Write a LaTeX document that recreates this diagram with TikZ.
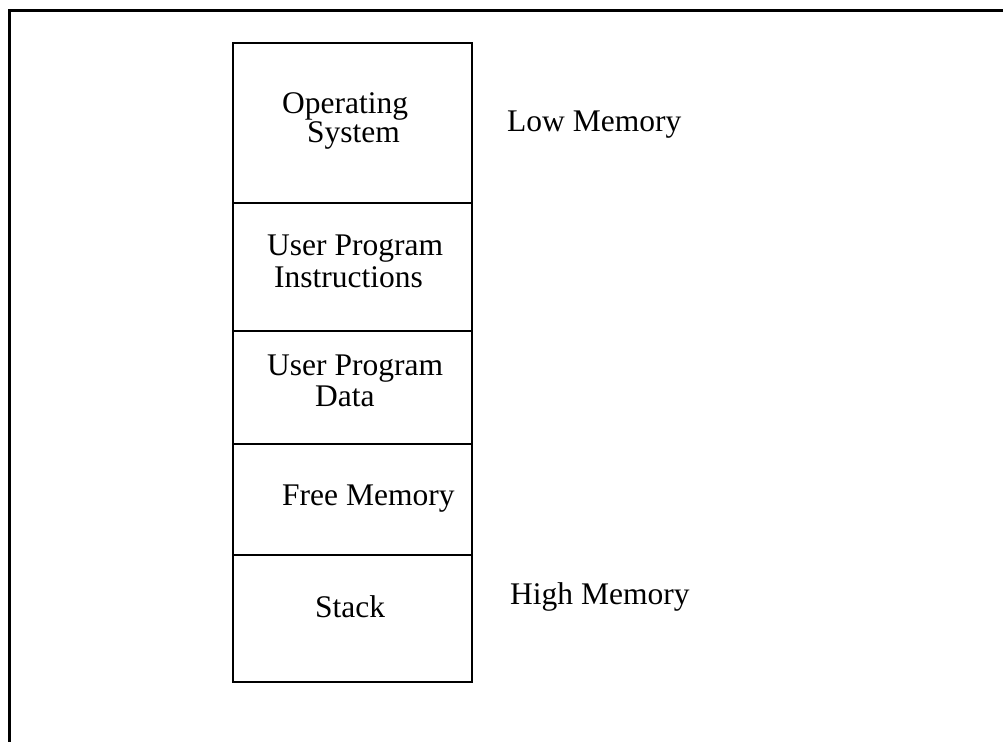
\documentclass[tikz,border=0pt]{standalone}
\usepackage{fontspec}
\setmainfont{Liberation Serif}
\begin{document}
\begin{tikzpicture}[x=1pt,y=-1pt,
  seg/.style={draw=black,line width=2.5pt,inner sep=0pt,outer sep=0pt,minimum width=239pt,anchor=north west},
  lbl/.style={anchor=base west,inner sep=0pt,font=\fontsize{31.5}{32}\selectfont},
  frame/.style={line width=3pt}]
\useasboundingbox (0,0) rectangle (1003,742);
\coordinate (ftr) at (1003,10);
\coordinate (ftl) at (9,10);
\coordinate (fbl) at (9,742);
\draw[frame] (ftr) -- (ftl) -- (fbl);
\node[seg,minimum height=160pt] (os) at (233,43) {};
\node[seg,minimum height=128pt] (upi) at (233,203) {};
\node[seg,minimum height=113pt] (upd) at (233,331) {};
\node[seg,minimum height=111pt] (free) at (233,444) {};
\node[seg,minimum height=127pt] (stack) at (233,555) {};
\node[lbl] (t1) at (282,113) {Operating};
\node[lbl] (t2) at (307,142) {System};
\node[lbl] (t3) at (267,255) {User Program};
\node[lbl] (t4) at (274,287) {Instructions};
\node[lbl] (t5) at (267,375) {User Program};
\node[lbl] (t6) at (315,406) {Data};
\node[lbl] (t7) at (282,505) {Free Memory};
\node[lbl] (t8) at (315,617) {Stack};
\node[lbl] (low) at (507,131) {Low Memory};
\node[lbl] (high) at (510,604) {High Memory};
\end{tikzpicture}
\end{document}
